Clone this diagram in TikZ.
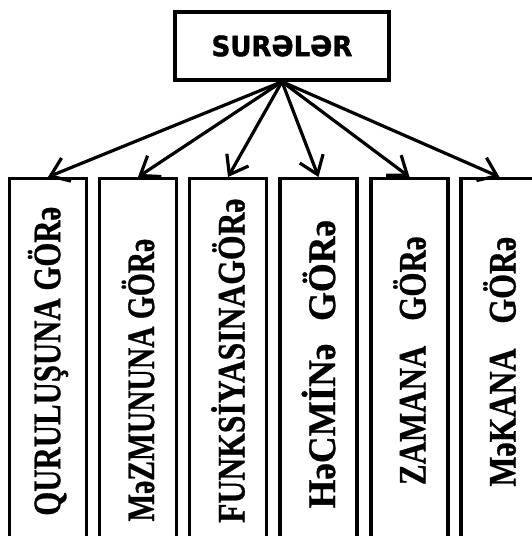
\documentclass[tikz,border=0pt]{standalone}
\usepackage{fontspec}
\setmainfont{Liberation Serif}[BoldFeatures={FakeBold=0.8}]
\newfontfamily\titlefont[FakeBold=1.4]{DejaVu Sans}
\usetikzlibrary{arrows.meta}
\newcommand{\sq}[2]{\scalebox{#1}[1]{#2}}
\begin{document}
\begin{tikzpicture}[x=1pt,y=-1pt,
  titlebox/.style={draw, line width=3.4pt, inner sep=0pt, minimum width=214pt, minimum height=68pt,
    font=\titlefont\bfseries\fontsize{28}{30}\selectfont},
  catbox/.style={draw, line width=3.4pt, inner sep=0pt, rotate=90, anchor=east,
    minimum width=360pt, minimum height=77pt,
    font=\bfseries\fontsize{39}{41}\selectfont},
  arr/.style={line width=3.2pt, -{Straight Barb[length=17pt,width=25pt]}}]
\useasboundingbox (0,0) rectangle (531,536);
\node[titlebox] (top) at (282,46) {\sq{0.93}{SURƏLƏR}};
\node[catbox] (b1) at (48,177) {\sq{0.79}{QURULUŞUNA GÖRə}\hspace*{5pt}};
\node[catbox] (b2) at (138,177) {\sq{0.757}{MəZMUNUNA GÖRə}\hspace*{43pt}};
\node[catbox] (b3) at (228,177) {\sq{0.812}{FUNKSİYASINAGÖRə}\hspace*{4pt}};
\node[catbox] (b4) at (318.5,177) {\sq{0.951}{HəCMİNə\hspace{23.8pt}GÖRə}\hspace*{11pt}};
\node[catbox] (b5) at (409.5,177) {\sq{0.794}{ZAMANA\hspace{31.5pt}GÖRə}\hspace*{4pt}};
\node[catbox] (b6) at (499.5,177) {\sq{0.818}{MəKANA\hspace{30.3pt}GÖRə}\hspace*{6pt}};
\foreach \b in {b1,b2,b3,b4,b5,b6}
  \draw[arr] (top.south) -- (\b.east);
\end{tikzpicture}
\end{document}
